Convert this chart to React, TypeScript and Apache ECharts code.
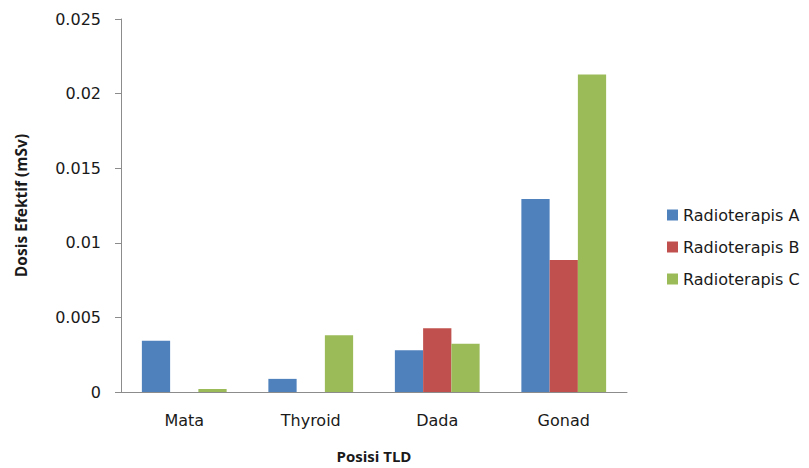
import React, { useEffect, useRef } from "react";
import * as echarts from "echarts";

// TLD positions and effective dose (mSv) for each radiotherapy
const categories = ["Mata", "Thyroid", "Dada", "Gonad"];
const seriesNames = ["Radioterapis A", "Radioterapis B", "Radioterapis C"];
const radioterapisA = [0.00344, 0.00088, 0.0028, 0.01294];
const radioterapisB = [0, 0, 0.00428, 0.00884];
const radioterapisC = [0.0002, 0.0038, 0.00324, 0.02128];
const colors = ["#4F81BD", "#C0504D", "#9BBB59"];

export default function App() {
  const ref = useRef<HTMLDivElement>(null);

  useEffect(() => {
    if (!ref.current) return;
    const chart = echarts.init(ref.current, undefined, { renderer: "svg" });
    const values = [radioterapisA, radioterapisB, radioterapisC];
    chart.setOption({
      animation: false,
      backgroundColor: "#ffffff",
      grid: { left: 121, top: 19, right: 182, bottom: 71, containLabel: false },
      legend: {
        orient: "vertical",
        left: 662,
        top: 202,
        itemWidth: 11,
        itemHeight: 11,
        itemGap: 16,
        icon: "rect",
        data: seriesNames,
        textStyle: { fontFamily: "DejaVu Sans", fontSize: 16, color: "#1a1a1a" },
      },
      xAxis: {
        type: "category",
        data: categories,
        name: "Posisi TLD",
        nameLocation: "middle",
        nameGap: 56,
        nameTextStyle: { fontFamily: "Open Sans", fontWeight: "bold", fontSize: 15, color: "#1a1a1a" },
        axisLine: { lineStyle: { color: "#8c8c8c", width: 1 } },
        axisTick: { show: false },
        axisLabel: { fontFamily: "DejaVu Sans", fontSize: 16, color: "#1a1a1a", margin: 20 },
      },
      yAxis: {
        type: "value",
        min: 0,
        max: 0.025,
        interval: 0.005,
        name: "Dosis Efektif (mSv)",
        nameLocation: "middle",
        nameGap: 92,
        nameRotate: 90,
        nameTextStyle: { fontFamily: "Open Sans", fontWeight: "bold", fontSize: 15.5, color: "#1a1a1a" },
        splitLine: { show: false },
        axisLine: { show: true, lineStyle: { color: "#8c8c8c", width: 1 } },
        axisTick: { show: true, length: 6, inside: false, lineStyle: { color: "#8c8c8c" } },
        axisLabel: {
          fontFamily: "DejaVu Sans",
          fontSize: 16,
          color: "#1a1a1a",
          margin: 20,
          formatter: (v: number) => String(parseFloat(v.toFixed(3))),
        },
      },
      series: seriesNames.map((name, i) => ({
        name,
        type: "bar",
        data: values[i],
        barGap: "0%",
        barCategoryGap: "33%",
        itemStyle: { color: colors[i] },
      })),
    });
    return () => chart.dispose();
  }, []);

  return (
    <div
      ref={ref}
      style={{ position: "fixed", left: 0, top: 0, width: 809, height: 468, background: "#ffffff" }}
    />
  );
}
